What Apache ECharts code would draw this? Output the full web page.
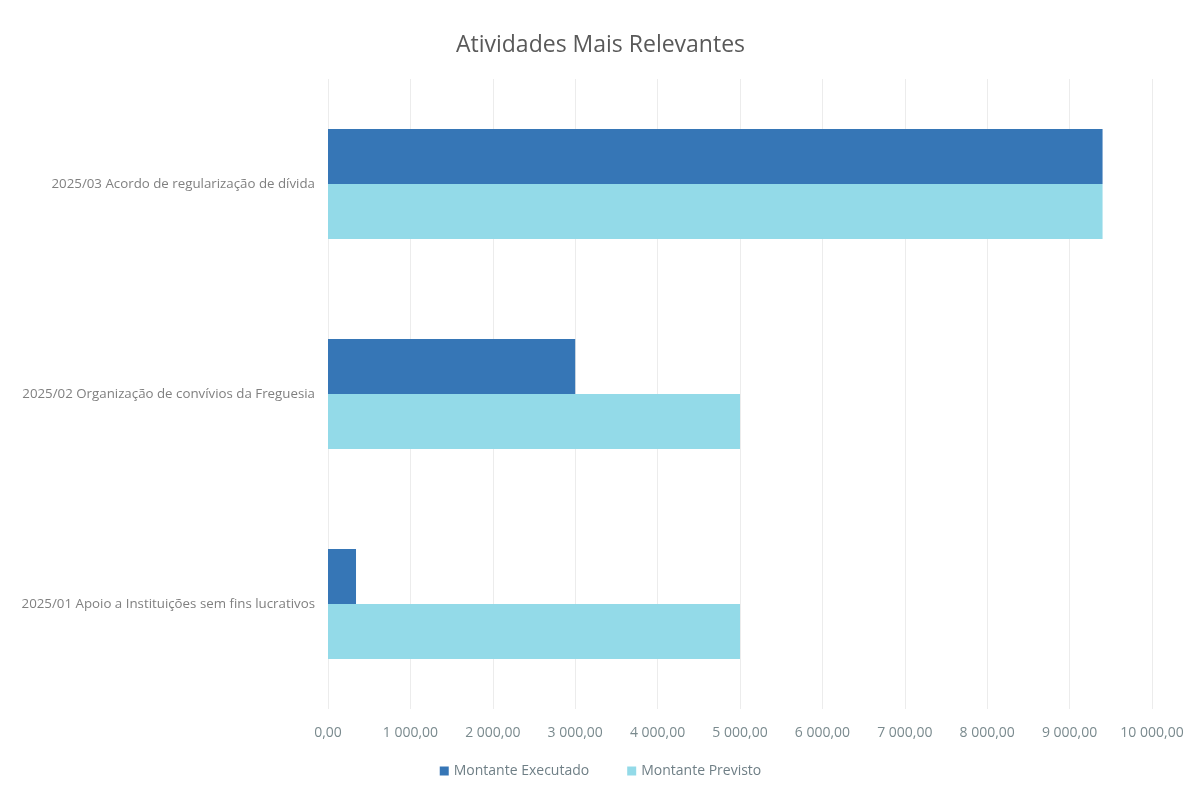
<!DOCTYPE html>
<html>
<head>
<meta charset="utf-8">
<script src="https://cdn.jsdelivr.net/npm/echarts@6/dist/echarts.min.js"></script>
<style>html,body{margin:0;padding:0;background:#fff;}#c{width:1201px;height:790px;}</style>
</head>
<body>
<div id="c"></div>
<script>
const categories = [
  '2025/01 Apoio a Instituições sem fins lucrativos',
  '2025/02 Organização de convívios da Freguesia',
  '2025/03 Acordo de regularização de dívida'
];
const executado = [340, 3000, 9400];
const previsto = [5000, 5000, 9400];
const seriesNames = ['Montante Executado', 'Montante Previsto'];

function fmt(v) {
  const s = Math.round(v).toString().replace(/\B(?=(\d{3})+(?!\d))/g, ' ');
  return s + ',00';
}

const chart = echarts.init(document.getElementById('c'));
chart.setOption({
  animation: false,
  backgroundColor: '#fff',
  title: {
    text: 'Atividades Mais Relevantes',
    left: 'center', top: 29, padding: [5, 5, 5, 20],
    textStyle: { fontFamily: 'Open Sans', fontSize: 23, fontWeight: 'normal', color: '#595959' }
  },
  legend: {
    data: seriesNames,
    bottom: 7, left: 'center', padding: [5, 5, 5, 20],
    icon: 'rect', itemWidth: 9, itemHeight: 9, itemGap: 38,
    textStyle: { fontFamily: 'Open Sans', fontSize: 14, color: '#6f7f86' }
  },
  grid: { left: 328, right: 49, top: 79, bottom: 81, containLabel: false },
  xAxis: {
    type: 'value', min: 0, max: 10000, interval: 1000,
    axisLine: { show: false }, axisTick: { show: false },
    splitLine: { lineStyle: { color: '#ececec' } },
    axisLabel: { formatter: fmt, margin: 17, fontFamily: 'Open Sans', fontSize: 14, color: '#7a8a8e' }
  },
  yAxis: {
    type: 'category', data: categories,
    axisLine: { show: false }, axisTick: { show: false },
    axisLabel: { margin: 13, fontFamily: 'Open Sans', fontSize: 13.3, color: '#808080' }
  },
  series: [
    { name: seriesNames[0], type: 'bar', data: executado, barWidth: 55, barGap: '0%', itemStyle: { color: '#3676b6' } },
    { name: seriesNames[1], type: 'bar', data: previsto, barWidth: 55, barGap: '0%', itemStyle: { color: '#93dae8' } }
  ]
});
</script>
</body>
</html>
